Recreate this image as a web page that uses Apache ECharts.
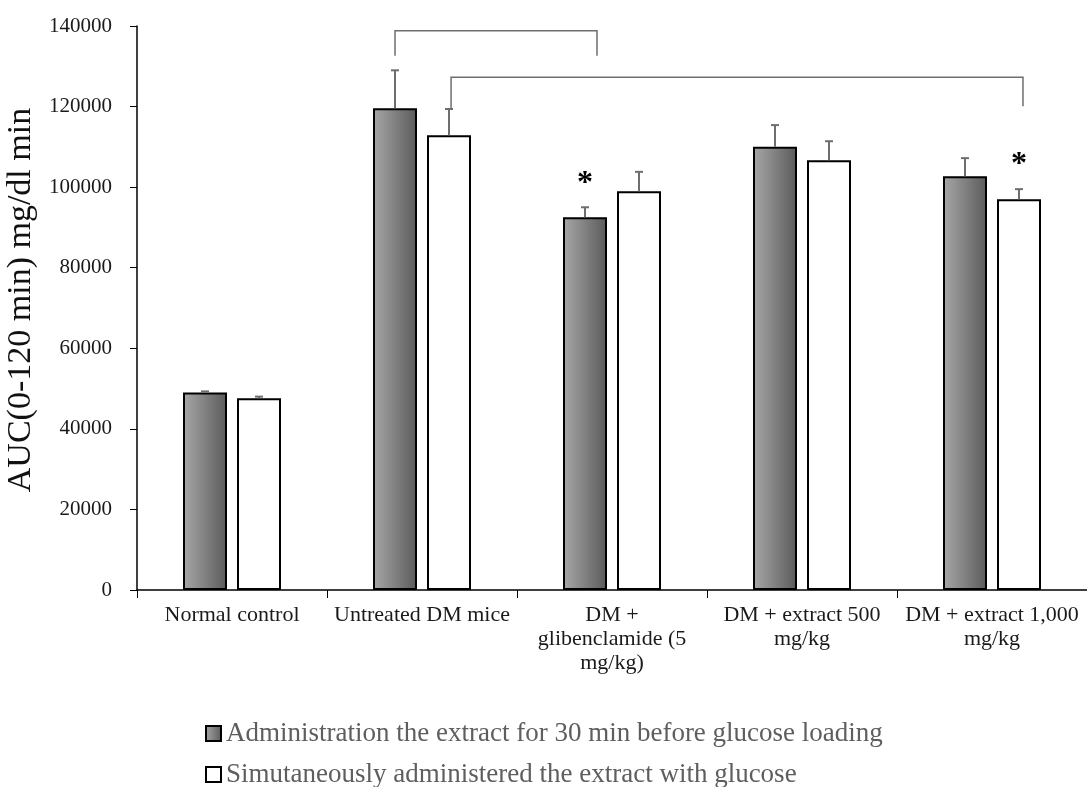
<!DOCTYPE html>
<html>
<head>
<meta charset="utf-8">
<script src="https://cdn.jsdelivr.net/npm/echarts@6/dist/echarts.min.js"></script>
<style>
  html, body { margin: 0; padding: 0; background: #fff; }
  #chart { width: 1087px; height: 787px; }
</style>
</head>
<body>
<div id="chart"></div>
<script>
// data
var categories = ['Normal control', 'Untreated DM mice', 'DM +\nglibenclamide (5\nmg/kg)', 'DM + extract 500\nmg/kg', 'DM + extract 1,000\nmg/kg'];
var seriesNames = ['Administration the extract for 30 min before glucose loading', 'Simutaneously administered the extract with glucose'];
var before30 = [49000, 119600, 92500, 110000, 102700];
var before30Err = [300, 9400, 2500, 5400, 4500];
var simult = [47600, 112900, 99000, 106700, 97000];
var simultErr = [400, 6500, 4800, 4700, 2500];
// significance marks: [category, series]
var stars = [[2, 0], [4, 1]];
// brackets: [x start, x end (category units), top value, left foot, right foot]
var brackets = [
  [0.858, 1.921, 138800, 132600, 132600],
  [1.153, 4.163, 127300, 119400, 120100]
];

var FONT = '"Liberation Serif", "DejaVu Serif", serif';
var BAR_W = 44, BAR_GAP = 10;
var HALF = (BAR_W + BAR_GAP) / 2;

var chart = echarts.init(document.getElementById('chart'));

var grayFill = new echarts.graphic.LinearGradient(0, 0, 1, 0, [
  { offset: 0, color: '#a8a8a8' },
  { offset: 1, color: '#5a5a5a' }
]);

// 误差线数据
var errData = [];
for (var i = 0; i < categories.length; i++) {
  errData.push([i, 0, before30[i], before30Err[i]]);
  errData.push([i, 1, simult[i], simultErr[i]]);
}

function renderErr(params, api) {
  var cat = api.value(0), idx = api.value(1), val = api.value(2), err = api.value(3);
  var base = api.coord([cat, val]);
  var top = api.coord([cat, val + err]);
  var x = base[0] + (idx === 0 ? -HALF : HALF);
  var children = [
    { type: 'line', shape: { x1: x, y1: base[1], x2: x, y2: top[1] }, style: { stroke: '#6e6e6e', lineWidth: 2 } },
    { type: 'line', shape: { x1: x - 4, y1: top[1], x2: x + 4, y2: top[1] }, style: { stroke: '#6e6e6e', lineWidth: 2 } }
  ];
  for (var s = 0; s < stars.length; s++) {
    if (stars[s][0] === cat && stars[s][1] === idx) {
      children.push({
        type: 'text',
        style: { x: x, y: top[1] - 8, text: '*', fill: '#000', font: 'bold 32px ' + FONT, align: 'center', verticalAlign: 'bottom' }
      });
    }
  }
  return { type: 'group', children: children };
}

function renderBracket(params, api) {
  var a = api.coord([api.value(0), api.value(2)]);
  var b = api.coord([api.value(1), api.value(2)]);
  var l = api.coord([api.value(0), api.value(3)]);
  var r = api.coord([api.value(1), api.value(4)]);
  return {
    type: 'polyline',
    shape: { points: [[l[0], l[1]], [a[0], a[1]], [b[0], b[1]], [r[0], r[1]]] },
    style: { stroke: '#6e6e6e', lineWidth: 1.5, fill: null }
  };
}

chart.setOption({
  animation: false,
  textStyle: { fontFamily: FONT },
  grid: { left: 137, right: 0, top: 26, bottom: 197, outerBoundsMode: 'none' },
  legend: {
    orient: 'vertical',
    left: 200,
    top: 715,
    height: 120,
    icon: 'rect',
    itemWidth: 15,
    itemHeight: 15,
    itemGap: 14,
    data: seriesNames,
    textStyle: { fontFamily: FONT, fontSize: 27, color: '#5e5e5e' }
  },
  xAxis: [{
    type: 'category',
    data: categories,
    axisLine: { lineStyle: { color: '#000', width: 1.5 } },
    axisTick: { show: true, length: 8, lineStyle: { color: '#000' } },
    axisLabel: { fontFamily: FONT, fontSize: 22, color: '#1a1a1a', lineHeight: 24, margin: 13, interval: 0 }
  }, {
    type: 'value',
    min: -0.5,
    max: 4.5,
    show: false
  }],
  yAxis: {
    type: 'value',
    min: 0,
    max: 140000,
    interval: 20000,
    name: 'AUC(0-120 min) mg/dl min',
    nameLocation: 'middle',
    nameGap: 77,
    nameTextStyle: { fontFamily: FONT, fontSize: 34, color: '#111', padding: [0, 0, 0, 16] },
    axisLine: { show: true, onZero: false, lineStyle: { color: '#000', width: 1.5 } },
    axisTick: { show: true, length: 7, lineStyle: { color: '#000' } },
    splitLine: { show: false },
    axisLabel: {
      fontFamily: FONT, fontSize: 21, color: '#1a1a1a', margin: 25,
      formatter: function (v) { return String(v); }
    }
  },
  series: [{
    name: seriesNames[0],
    type: 'bar',
    data: before30,
    barWidth: BAR_W,
    barGap: (BAR_GAP / BAR_W * 100) + '%',
    itemStyle: { color: grayFill, borderColor: '#000', borderWidth: 2 }
  }, {
    name: seriesNames[1],
    type: 'bar',
    data: simult,
    barWidth: BAR_W,
    itemStyle: { color: '#fff', borderColor: '#000', borderWidth: 2 }
  }, {
    type: 'custom',
    renderItem: renderErr,
    data: errData,
    encode: { x: 0, y: 2 },
    z: 3
  }, {
    type: 'custom',
    xAxisIndex: 1,
    renderItem: renderBracket,
    data: brackets,
    encode: { x: [0, 1], y: 2 },
    z: 3
  }]
});
</script>
</body>
</html>
